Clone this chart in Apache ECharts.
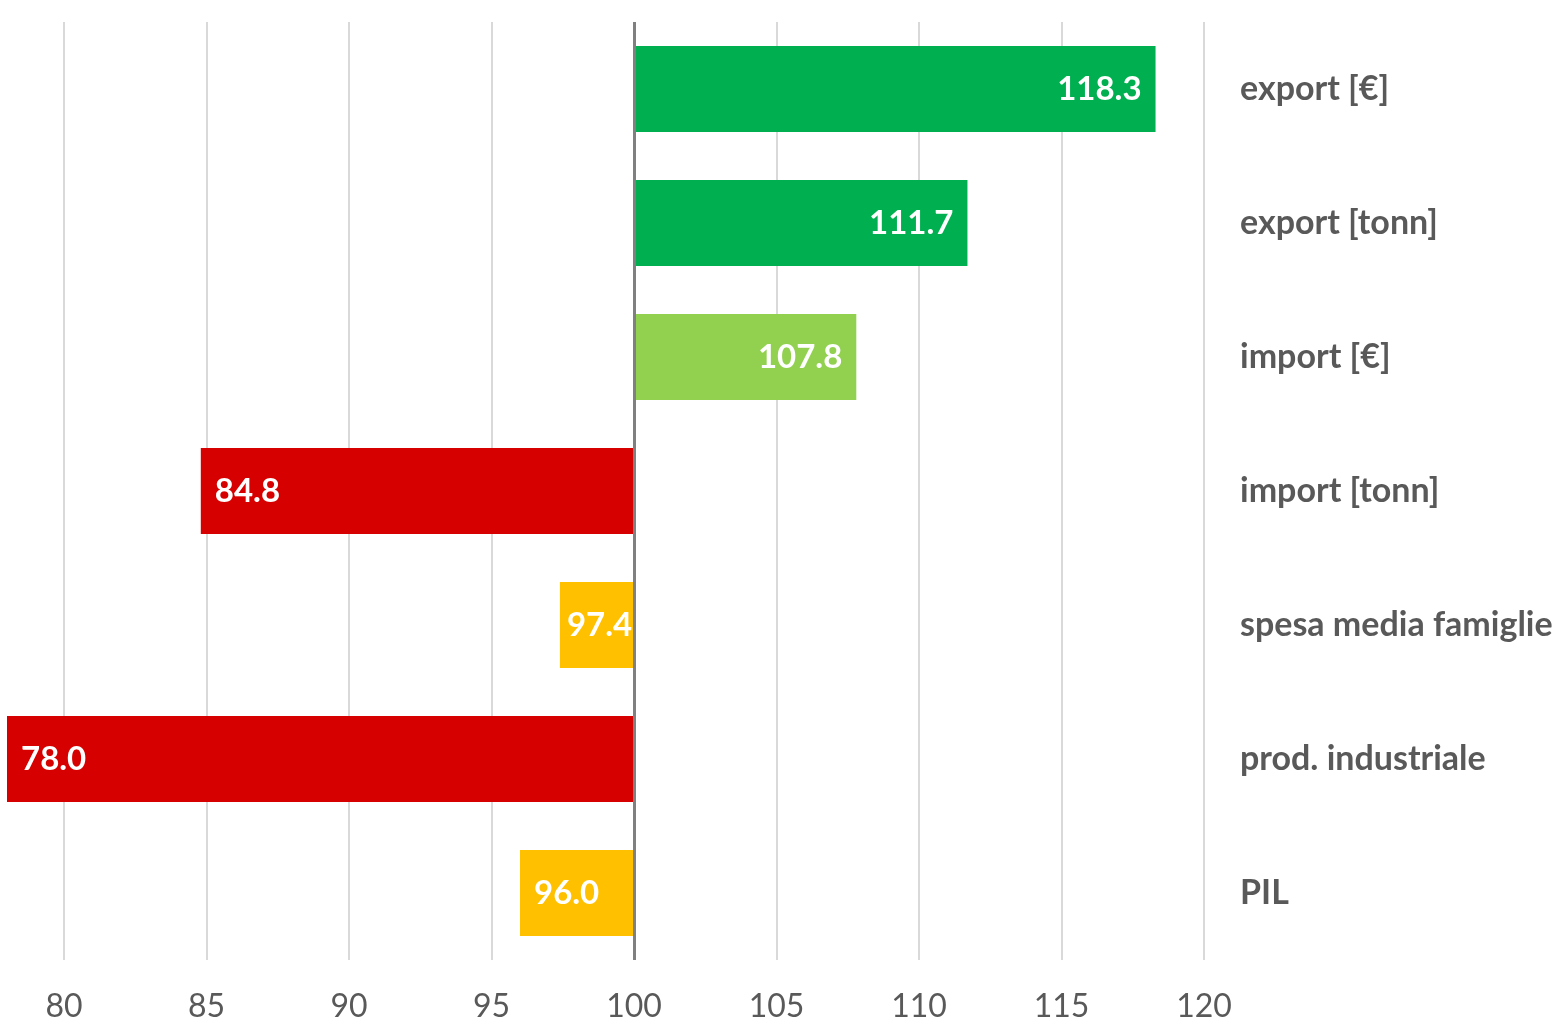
<!DOCTYPE html>
<html>
<head>
<meta charset="utf-8">
<script src="https://cdn.jsdelivr.net/npm/echarts@6/dist/echarts.min.js"></script>
<style>html,body{margin:0;padding:0;background:#fff}#c{width:1567px;height:1024px}</style>
</head>
<body>
<div id="c"></div>
<script>
const categories = ['export [€]', 'export [tonn]', 'import [€]', 'import [tonn]', 'spesa media famiglie', 'prod. industriale', 'PIL'];
const values = [118.3, 111.7, 107.8, 84.8, 97.4, 78.0, 96.0];
const colors = ['#00B050', '#00B050', '#92D050', '#D60000', '#FFC000', '#D60000', '#FFC000'];
const baseline = 100;

const baseData = values.map(v => Math.min(v, baseline));
const deltaData = values.map((v, i) => ({
  value: Math.abs(v - baseline),
  itemStyle: { color: colors[i] },
  label: {
    position: v >= baseline ? 'insideRight' : 'insideLeft',
    distance: Math.abs(v - baseline) < 3 ? 7 : 14
  }
}));

const chart = echarts.init(document.getElementById('c'));
chart.setOption({
  animation: false,
  grid: { left: 7, right: 363, top: 22, bottom: 64 },
  xAxis: {
    type: 'value',
    min: 78,
    max: 120,
    splitNumber: 8,
    axisLine: { show: false },
    axisTick: { show: false },
    axisLabel: {
      color: '#595959', fontFamily: 'Lato', fontSize: 32, margin: 31,
      formatter: v => (v % 5 === 0 ? String(v) : '')
    },
    splitLine: { show: true, showMinLine: false, lineStyle: { color: '#D9D9D9', width: 2 } }
  },
  yAxis: {
    type: 'category',
    data: categories,
    inverse: true,
    position: 'right',
    axisLine: { show: false },
    axisTick: { show: false },
    axisLabel: { color: '#595959', fontFamily: 'Lato', fontWeight: 'bold', fontSize: 34, margin: 36, align: 'left' }
  },
  series: [
    {
      type: 'bar', stack: 's', data: baseData, barCategoryGap: '36%',
      itemStyle: { color: 'transparent' }, silent: true
    },
    {
      type: 'bar', stack: 's', data: deltaData,
      label: {
        show: true, color: '#fff', fontFamily: 'Lato', fontWeight: 'bold', fontSize: 33,
        formatter: p => values[p.dataIndex].toFixed(1)
      },
      markLine: {
        silent: true, symbol: 'none', label: { show: false },
        lineStyle: { color: '#808080', width: 3, type: 'solid' },
        data: [{ xAxis: baseline }]
      }
    }
  ]
});
</script>
</body>
</html>
